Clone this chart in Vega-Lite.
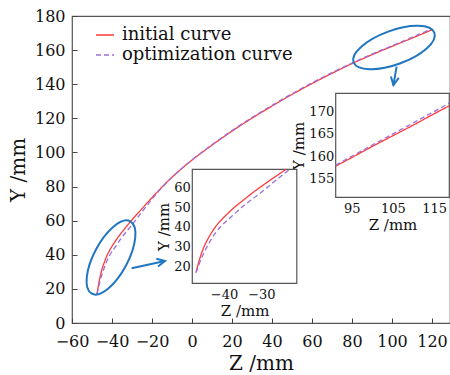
{
  "$schema": "https://vega.github.io/schema/vega-lite/v6.json",
  "width": 378,
  "height": 307,
  "autosize": "none",
  "padding": {"left": 72, "top": 16, "right": 0, "bottom": 52},
  "config": {
    "view": {"stroke": "#555", "strokeWidth": 1.2},
    "font": "DejaVu Serif",
    "axis": {"domain": false, "grid": false, "tickColor": "#444", "labelColor": "#111", "titleColor": "#111", "labelFont": "DejaVu Serif", "titleFont": "DejaVu Serif", "titleFontWeight": "normal", "labelFlush": false, "labelOverlap": false, "labelSeparation": -40},
    "legend": {"labelFont": "DejaVu Serif", "labelFontSize": 18, "labelColor": "#111", "labelLimit": 0}
  },
  "datasets": {
    "main": [
      {"curve": "initial curve", "Z": -47.5, "Y": 17}, {"curve": "initial curve", "Z": -47.1, "Y": 20}, {"curve": "initial curve", "Z": -46.5, "Y": 24},
      {"curve": "initial curve", "Z": -45.8, "Y": 28}, {"curve": "initial curve", "Z": -45, "Y": 31.5}, {"curve": "initial curve", "Z": -44, "Y": 35},
      {"curve": "initial curve", "Z": -42.7, "Y": 39}, {"curve": "initial curve", "Z": -41, "Y": 43}, {"curve": "initial curve", "Z": -39, "Y": 46.8},
      {"curve": "initial curve", "Z": -37, "Y": 50.3}, {"curve": "initial curve", "Z": -35, "Y": 53.3}, {"curve": "initial curve", "Z": -32.5, "Y": 57},
      {"curve": "initial curve", "Z": -30, "Y": 60.5}, {"curve": "initial curve", "Z": -27.5, "Y": 63.8}, {"curve": "initial curve", "Z": -25, "Y": 67},
      {"curve": "initial curve", "Z": -22.5, "Y": 70.3}, {"curve": "initial curve", "Z": -20, "Y": 73.5}, {"curve": "initial curve", "Z": -15, "Y": 79.7},
      {"curve": "initial curve", "Z": -10, "Y": 85.5}, {"curve": "initial curve", "Z": -5, "Y": 90.7}, {"curve": "initial curve", "Z": 0, "Y": 95.5},
      {"curve": "initial curve", "Z": 10, "Y": 104.3}, {"curve": "initial curve", "Z": 20, "Y": 112.5}, {"curve": "initial curve", "Z": 30, "Y": 120.1},
      {"curve": "initial curve", "Z": 40, "Y": 127.2}, {"curve": "initial curve", "Z": 50, "Y": 134}, {"curve": "initial curve", "Z": 60, "Y": 140.4},
      {"curve": "initial curve", "Z": 70, "Y": 146.4}, {"curve": "initial curve", "Z": 80, "Y": 152.1}, {"curve": "initial curve", "Z": 90, "Y": 157.3},
      {"curve": "initial curve", "Z": 100, "Y": 162.2}, {"curve": "initial curve", "Z": 110, "Y": 167}, {"curve": "initial curve", "Z": 120, "Y": 171.9},
      {"curve": "optimization curve", "Z": -47.5, "Y": 17}, {"curve": "optimization curve", "Z": -46.9, "Y": 20}, {"curve": "optimization curve", "Z": -46, "Y": 24.5},
      {"curve": "optimization curve", "Z": -45, "Y": 28.5}, {"curve": "optimization curve", "Z": -44, "Y": 32}, {"curve": "optimization curve", "Z": -42.5, "Y": 36.5},
      {"curve": "optimization curve", "Z": -41, "Y": 40}, {"curve": "optimization curve", "Z": -39, "Y": 43.5}, {"curve": "optimization curve", "Z": -37, "Y": 47},
      {"curve": "optimization curve", "Z": -35, "Y": 50.3}, {"curve": "optimization curve", "Z": -32.5, "Y": 54}, {"curve": "optimization curve", "Z": -30, "Y": 57.5},
      {"curve": "optimization curve", "Z": -28, "Y": 60.6}, {"curve": "optimization curve", "Z": -26, "Y": 63.7}, {"curve": "optimization curve", "Z": -24, "Y": 66.7},
      {"curve": "optimization curve", "Z": -22, "Y": 69.6}, {"curve": "optimization curve", "Z": -20, "Y": 72.6}, {"curve": "optimization curve", "Z": -15, "Y": 79.4},
      {"curve": "optimization curve", "Z": -10, "Y": 85.4}, {"curve": "optimization curve", "Z": -5, "Y": 90.7}, {"curve": "optimization curve", "Z": 0, "Y": 95.6},
      {"curve": "optimization curve", "Z": 10, "Y": 104.5}, {"curve": "optimization curve", "Z": 20, "Y": 112.8}, {"curve": "optimization curve", "Z": 30, "Y": 120.5},
      {"curve": "optimization curve", "Z": 40, "Y": 127.6}, {"curve": "optimization curve", "Z": 50, "Y": 134.4}, {"curve": "optimization curve", "Z": 60, "Y": 140.8},
      {"curve": "optimization curve", "Z": 70, "Y": 146.8}, {"curve": "optimization curve", "Z": 80, "Y": 152.4}, {"curve": "optimization curve", "Z": 90, "Y": 157.7},
      {"curve": "optimization curve", "Z": 100, "Y": 162.5}, {"curve": "optimization curve", "Z": 110, "Y": 167.5}, {"curve": "optimization curve", "Z": 120, "Y": 172.5}
    ],
    "inset1": [
      {"curve": "initial curve", "Z": -47.5, "Y": 17}, {"curve": "initial curve", "Z": -47.1, "Y": 20}, {"curve": "initial curve", "Z": -46.5, "Y": 24},
      {"curve": "initial curve", "Z": -45.8, "Y": 28}, {"curve": "initial curve", "Z": -45, "Y": 31.5}, {"curve": "initial curve", "Z": -44, "Y": 35},
      {"curve": "initial curve", "Z": -42.7, "Y": 39}, {"curve": "initial curve", "Z": -41, "Y": 43}, {"curve": "initial curve", "Z": -39, "Y": 46.8},
      {"curve": "initial curve", "Z": -37, "Y": 50.3}, {"curve": "initial curve", "Z": -35, "Y": 53.3}, {"curve": "initial curve", "Z": -32.5, "Y": 57},
      {"curve": "initial curve", "Z": -30, "Y": 60.5}, {"curve": "initial curve", "Z": -27.5, "Y": 63.8}, {"curve": "initial curve", "Z": -25, "Y": 67},
      {"curve": "initial curve", "Z": -23.4, "Y": 69.1},
      {"curve": "optimization curve", "Z": -47.5, "Y": 17}, {"curve": "optimization curve", "Z": -46.9, "Y": 20}, {"curve": "optimization curve", "Z": -46, "Y": 24.5},
      {"curve": "optimization curve", "Z": -45, "Y": 28.5}, {"curve": "optimization curve", "Z": -44, "Y": 32}, {"curve": "optimization curve", "Z": -42.5, "Y": 36.5},
      {"curve": "optimization curve", "Z": -41, "Y": 40}, {"curve": "optimization curve", "Z": -39, "Y": 43.5}, {"curve": "optimization curve", "Z": -37, "Y": 47},
      {"curve": "optimization curve", "Z": -35, "Y": 50.3}, {"curve": "optimization curve", "Z": -32.5, "Y": 54}, {"curve": "optimization curve", "Z": -30, "Y": 57.5},
      {"curve": "optimization curve", "Z": -28, "Y": 60.6}, {"curve": "optimization curve", "Z": -26, "Y": 63.7}, {"curve": "optimization curve", "Z": -24, "Y": 66.7},
      {"curve": "optimization curve", "Z": -22.4, "Y": 69.1}
    ],
    "inset2": [
      {"curve": "initial curve", "Z": 91.1, "Y": 157.8}, {"curve": "initial curve", "Z": 95, "Y": 159.7}, {"curve": "initial curve", "Z": 100, "Y": 162.2},
      {"curve": "initial curve", "Z": 105, "Y": 164.6}, {"curve": "initial curve", "Z": 110, "Y": 167}, {"curve": "initial curve", "Z": 115, "Y": 169.5},
      {"curve": "initial curve", "Z": 118.7, "Y": 171.3},
      {"curve": "optimization curve", "Z": 91.1, "Y": 158}, {"curve": "optimization curve", "Z": 95, "Y": 160}, {"curve": "optimization curve", "Z": 100, "Y": 162.5},
      {"curve": "optimization curve", "Z": 105, "Y": 165}, {"curve": "optimization curve", "Z": 110, "Y": 167.5}, {"curve": "optimization curve", "Z": 115, "Y": 170},
      {"curve": "optimization curve", "Z": 118.7, "Y": 171.9}
    ]
  },
  "layer": [
    {
      "layer": [
        {
          "data": {"name": "main"},
          "mark": {"type": "line", "strokeWidth": 1.3, "interpolate": "monotone"},
          "encoding": {
            "x": {"field": "Z", "type": "quantitative", "scale": {"domain": [-60, 129], "nice": false, "zero": false},
                  "axis": {"orient": "bottom", "values": [-60, -40, -20, 0, 20, 40, 60, 80, 100, 120], "title": "Z /mm", "titleFontSize": 20, "labelFontSize": 16, "tickSize": -5, "labelPadding": 15, "titlePadding": 4, "labelOverlap": false}},
            "y": {"field": "Y", "type": "quantitative", "scale": {"domain": [0, 180], "nice": false, "zero": false},
                  "axis": {"orient": "left", "values": [0, 20, 40, 60, 80, 100, 120, 140, 160, 180], "tickCount": 10, "title": "Y /mm", "titleFontSize": 20, "labelFontSize": 16, "tickSize": -5, "labelPadding": 12, "titlePadding": 6, "labelOverlap": false, "labelSeparation": -40, "labelBound": false}},
            "color": {"field": "curve", "type": "nominal", "scale": {"domain": ["initial curve", "optimization curve"], "range": ["#ff3b3b", "#9a6fdc"]},
                      "legend": {"orient": "none", "legendX": 23, "legendY": 9, "title": null, "symbolType": "stroke", "symbolSize": 324, "symbolStrokeWidth": 1.5, "labelFontSize": 18, "labelLimit": 0, "rowPadding": 1, "padding": 0, "labelOffset": 7}},
            "strokeDash": {"field": "curve", "type": "nominal", "scale": {"domain": ["initial curve", "optimization curve"], "range": [[1, 0], [5, 3]]},
                      "legend": {"orient": "none", "legendX": 23, "legendY": 9, "title": null, "symbolType": "stroke", "symbolSize": 324, "symbolStrokeWidth": 1.5, "labelFontSize": 18, "labelLimit": 0, "rowPadding": 1, "padding": 0, "labelOffset": 7}}
          }
        },
        {
          "data": {"values": [{"Z": -40.5, "Y": 38.4}]},
          "mark": {"type": "point", "shape": "M -1 0 A 1 0.415 0 1 1 1 0 A 1 0.415 0 1 1 -1 0 Z", "size": 6724, "angle": 298, "stroke": "#2176c2", "strokeWidth": 2, "filled": false, "opacity": 1},
          "encoding": {"x": {"field": "Z", "type": "quantitative"}, "y": {"field": "Y", "type": "quantitative", "axis": {"labelOverlap": false}}}
        },
        {
          "data": {"values": [{"Z": 101, "Y": 161.5}]},
          "mark": {"type": "point", "shape": "M -1 0 A 1 0.395 0 1 1 1 0 A 1 0.395 0 1 1 -1 0 Z", "size": 7396, "angle": 340, "stroke": "#2176c2", "strokeWidth": 2, "filled": false, "opacity": 1},
          "encoding": {"x": {"field": "Z", "type": "quantitative"}, "y": {"field": "Y", "type": "quantitative", "axis": {"labelOverlap": false}}}
        },
        {
          "data": {"values": [{"Z": -30.2, "Y": 32.1, "Z2": -13.5, "Y2": 36.4}, {"Z": 102.3, "Y": 150.3, "Z2": 100.7, "Y2": 139.5}]},
          "mark": {"type": "rule", "stroke": "#2176c2", "strokeWidth": 2},
          "encoding": {"x": {"field": "Z", "type": "quantitative"}, "y": {"field": "Y", "type": "quantitative", "axis": {"labelOverlap": false}}, "x2": {"field": "Z2"}, "y2": {"field": "Y2"}}
        },
        {
          "data": {"values": [{"Z": -13.5, "Y": 36.4}]},
          "mark": {"type": "point", "shape": "M -2 -1 L 0 0 L -2 1", "size": 64, "angle": 347.6, "stroke": "#2176c2", "strokeWidth": 2, "filled": false, "opacity": 1},
          "encoding": {"x": {"field": "Z", "type": "quantitative"}, "y": {"field": "Y", "type": "quantitative", "axis": {"labelOverlap": false}}}
        },
        {
          "data": {"values": [{"Z": 100.7, "Y": 139.5}]},
          "mark": {"type": "point", "shape": "M -2 -1 L 0 0 L -2 1", "size": 64, "angle": 100.5, "stroke": "#2176c2", "strokeWidth": 2, "filled": false, "opacity": 1},
          "encoding": {"x": {"field": "Z", "type": "quantitative"}, "y": {"field": "Y", "type": "quantitative", "axis": {"labelOverlap": false}}}
        }
      ]
    },
    {
      "layer": [
        {
          "data": {"values": [{}]},
          "mark": {"type": "rect", "fill": "white", "stroke": "#555", "strokeWidth": 1.2},
          "encoding": {
            "x": {"datum": -48.5, "type": "quantitative", "scale": {"domain": [-48.5, -20.5], "range": [120.3, 224.8], "nice": false, "zero": false},
                  "axis": {"orient": "bottom", "offset": -39.7, "values": [-40, -30], "title": "Z /mm", "titleFontSize": 15, "labelFontSize": 13, "tickSize": -3, "labelPadding": 8, "titlePadding": 2}},
            "x2": {"datum": -20.5},
            "y": {"datum": 11.6, "type": "quantitative", "scale": {"domain": [11.6, 69.1], "range": [267.3, 153.3], "nice": false, "zero": false},
                  "axis": {"orient": "left", "offset": -120.3, "values": [20, 30, 40, 50, 60], "title": "Y /mm", "titleFontSize": 15, "labelFontSize": 13, "tickSize": -3, "labelPadding": 5, "titlePadding": 2}},
            "y2": {"datum": 69.1}
          }
        },
        {
          "data": {"name": "inset1"},
          "mark": {"type": "line", "strokeWidth": 1.3, "interpolate": "monotone"},
          "encoding": {
            "x": {"field": "Z", "type": "quantitative"},
            "y": {"field": "Y", "type": "quantitative"},
            "color": {"field": "curve", "type": "nominal"},
            "strokeDash": {"field": "curve", "type": "nominal"}
          }
        }
      ]
    },
    {
      "layer": [
        {
          "data": {"values": [{}]},
          "mark": {"type": "rect", "fill": "white", "stroke": "#555", "strokeWidth": 1.2},
          "encoding": {
            "x": {"datum": 91.1, "type": "quantitative", "scale": {"domain": [91.1, 118.7], "range": [263.7, 377.3], "nice": false, "zero": false},
                  "axis": {"orient": "bottom", "offset": -125.7, "values": [95, 105, 115], "title": "Z /mm", "titleFontSize": 15, "labelFontSize": 13, "tickSize": -3, "labelPadding": 8, "titlePadding": 2}},
            "x2": {"datum": 118.7},
            "y": {"datum": 150.8, "type": "quantitative", "scale": {"domain": [150.8, 174.1], "range": [181.3, 77.3], "nice": false, "zero": false},
                  "axis": {"orient": "left", "offset": -263.7, "values": [155, 160, 165, 170], "title": "Y /mm", "titleFontSize": 15, "labelFontSize": 13, "tickSize": -3, "labelPadding": 5, "titlePadding": 2}},
            "y2": {"datum": 174.1}
          }
        },
        {
          "data": {"name": "inset2"},
          "mark": {"type": "line", "strokeWidth": 1.3, "interpolate": "monotone"},
          "encoding": {
            "x": {"field": "Z", "type": "quantitative"},
            "y": {"field": "Y", "type": "quantitative"},
            "color": {"field": "curve", "type": "nominal"},
            "strokeDash": {"field": "curve", "type": "nominal"}
          }
        }
      ]
    }
  ],
  "resolve": {"scale": {"x": "independent", "y": "independent"}, "axis": {"x": "independent", "y": "independent"}}
}
